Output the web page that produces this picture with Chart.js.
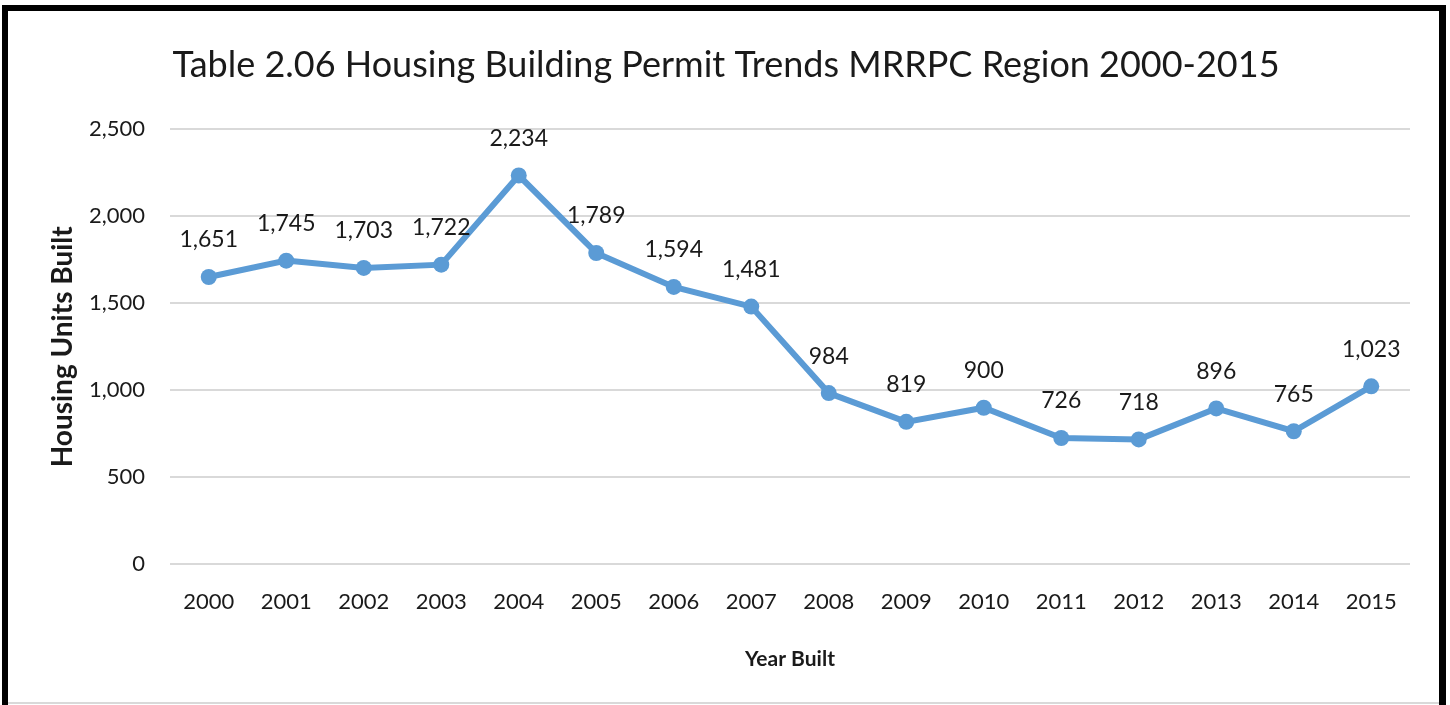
<!DOCTYPE html>
<html>
<head>
<meta charset="utf-8">
<script src="https://cdn.jsdelivr.net/npm/chart.js@4/dist/chart.umd.min.js"></script>
<style>
  html, body { margin: 0; padding: 0; background: #fff; }
  #wrap { position: relative; width: 1450px; height: 705px; }
  canvas { display: block; }
</style>
</head>
<body>
<div id="wrap"><canvas id="c" width="1450" height="705"></canvas></div>
<script>
const years = ["2000","2001","2002","2003","2004","2005","2006","2007","2008","2009","2010","2011","2012","2013","2014","2015"];
const housingUnits = [1651, 1745, 1703, 1722, 2234, 1789, 1594, 1481, 984, 819, 900, 726, 718, 896, 765, 1023];
const yTicks = [0, 500, 1000, 1500, 2000, 2500];
const chartTitle = "Table 2.06 Housing Building Permit Trends MRRPC Region 2000-2015";
const yTitle = "Housing Units Built";
const xTitle = "Year Built";

const FONT = "Lato, 'Open Sans', sans-serif";
const TEXT = "#1a1a1a";
const fmt = v => v.toLocaleString("en-US");

const frame = {
  id: "frame",
  afterDraw(chart) {
    const ctx = chart.ctx;
    ctx.save();
    ctx.fillStyle = "#000";
    ctx.fillRect(2, 5, 1444, 6);      // top
    ctx.fillRect(2, 5, 6, 700);       // left
    ctx.fillRect(1439, 5, 7, 700);    // right
    ctx.fillStyle = "#d9d9d9";
    ctx.fillRect(8, 702, 1431, 2);    // bottom faint
    ctx.restore();
  }
};

const dataLabels = {
  id: "dataLabels",
  afterDatasetsDraw(chart) {
    const ctx = chart.ctx;
    const meta = chart.getDatasetMeta(0);
    const vals = chart.data.datasets[0].data;
    ctx.save();
    ctx.font = "23px " + FONT;
    ctx.fillStyle = TEXT;
    ctx.textAlign = "center";
    ctx.textBaseline = "middle";
    meta.data.forEach((pt, i) => {
      ctx.fillText(fmt(vals[i]), pt.x, pt.y - 37);
    });
    ctx.restore();
  }
};

new Chart(document.getElementById("c"), {
  type: "line",
  data: {
    labels: years,
    datasets: [{
      data: housingUnits,
      borderColor: "#5B9BD5",
      backgroundColor: "#5B9BD5",
      borderWidth: 6,
      pointRadius: 8,
      pointHoverRadius: 8,
      pointBackgroundColor: "#5B9BD5",
      pointBorderColor: "#5B9BD5",
      pointBorderWidth: 0,
      tension: 0,
      fill: false
    }]
  },
  options: {
    responsive: false,
    animation: false,
    events: [],
    layout: { padding: { left: 42, right: 40, top: 44, bottom: 29 } },
    plugins: {
      legend: { display: false },
      tooltip: { enabled: false },
      title: {
        display: true,
        text: chartTitle,
        color: TEXT,
        font: { family: FONT, size: 36, weight: "normal", lineHeight: 1.2 },
        padding: { top: 0, bottom: 42 }
      }
    },
    scales: {
      x: {
        type: "category",
        offset: true,
        grid: { display: false, drawTicks: false },
        border: { display: false },
        ticks: {
          color: TEXT,
          font: { family: FONT, size: 22 },
          padding: 24,
          maxRotation: 0,
          autoSkip: false
        },
        title: {
          display: true,
          text: xTitle,
          color: TEXT,
          font: { family: FONT, size: 21, weight: "bold", lineHeight: 1.2 },
          padding: { top: 8, bottom: 4 }
        }
      },
      y: {
        min: 0,
        max: 2500,
        afterBuildTicks(scale) { scale.ticks = yTicks.map(v => ({ value: v })); },
        afterFit(scale) { scale.width = 128; },
        grid: { color: "#d9d9d9", lineWidth: 2, drawTicks: false },
        border: { display: false },
        ticks: {
          color: TEXT,
          font: { family: FONT, size: 22 },
          padding: 25,
          callback: v => fmt(v)
        },
        title: {
          display: true,
          text: yTitle,
          color: TEXT,
          font: { family: FONT, size: 28, weight: "bold", lineHeight: 1.2 },
          padding: { top: 4, bottom: 4 }
        }
      }
    }
  },
  plugins: [dataLabels, frame]
});
</script>
</body>
</html>
